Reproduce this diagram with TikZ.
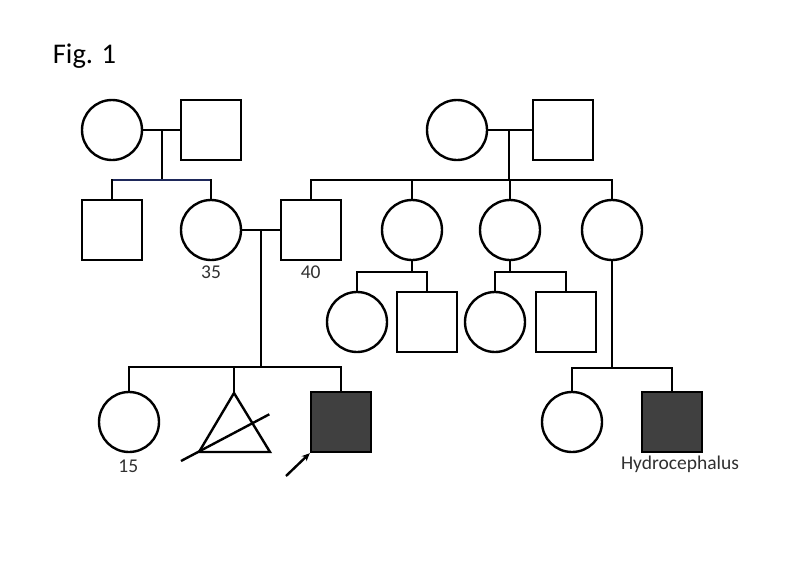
\documentclass[tikz,border=0pt]{standalone}
\usepackage{fontspec}
\setmainfont{Carlito}
\usetikzlibrary{arrows.meta}
\definecolor{affected}{HTML}{404040}
\definecolor{labelgray}{HTML}{303030}
\definecolor{navyline}{RGB}{30,40,90}
\begin{document}
\begin{tikzpicture}[x=1pt,y=-1pt,
  line width=2.4pt,
  female/.style={draw,circle,minimum size=60pt,inner sep=0pt},
  male/.style={draw,rectangle,minimum size=60pt,inner sep=0pt},
  affmale/.style={male,fill=affected},
  lbl/.style={font=\fontsize{19.5}{21}\selectfont,text=labelgray,inner sep=0pt,anchor=base}
]
\useasboundingbox (0,0) rectangle (796,563);
\node[anchor=base west,inner sep=0pt,font=\fontsize{28.5}{32}\selectfont] (fig) at (51.7,63.3) {Fig. 1};

% generation I
\node[female] (F1) at (112,130) {};
\node[male]   (M1) at (211,130) {};
\node[female] (F2) at (457,130) {};
\node[male]   (M2) at (563,130) {};

% generation II
\node[male]   (S1) at (112,230) {};
\node[female] (D1) at (211,230) {};
\node[male]   (H)  at (311,230) {};
\node[female] (A)  at (412,230) {};
\node[female] (B)  at (510,230) {};
\node[female] (C)  at (612,230) {};

% generation III (middle)
\node[female] (A1) at (357,322) {};
\node[male]   (A2) at (427,322) {};
\node[female] (B1) at (495,322) {};
\node[male]   (B2) at (566,322) {};

% generation III (bottom)
\node[female] (K1) at (129,422) {};
\coordinate (T) at (234,393);
\coordinate (TL) at (199,452);
\coordinate (TR) at (270,452);
\node[affmale] (P)  at (341,422) {};
\node[female] (C1) at (572,422) {};
\node[affmale] (C2) at (672,422) {};

% labels
\node[lbl] (l35) at (211,278.3) {35};
\node[lbl] (l40) at (310.7,278.3) {40};
\node[lbl] (l15) at (128.3,472.7) {15};
\node[lbl] (lh)  at (680,469.3) {Hydrocephalus};

% marriages and descent
\coordinate (m1) at (162,130);
\coordinate (s1) at (162,180);
\draw (F1.east) -- (M1.west);
\draw (m1) -- (s1);
\draw[navyline] (S1.north) |- (s1) -| (D1.north);
\draw (S1.north) -- ++(0,-20);
\draw (D1.north) -- ++(0,-20);

\coordinate (m2) at (509,130);
\coordinate (s2) at (509,180);
\draw (F2.east) -- (M2.west);
\draw (m2) -- (s2);
\draw (H.north) |- (s2) -| (C.north);
\draw (A.north) -- (A.north |- s2);
\draw (B.north) -- (B.north |- s2);

\coordinate (m3) at (261,230);
\coordinate (s3) at (261,367);
\draw (D1.east) -- (H.west);
\draw (m3) -- (s3);
\draw (K1.north) |- (s3) -| (P.north);
\draw (T) -- (T |- s3);

\coordinate (sA) at (412,272);
\draw (A.south) -- (sA);
\draw (A1.north) |- (sA) -| (A2.north);

\coordinate (sB) at (510,272);
\draw (B.south) -- (sB);
\draw (B1.north) |- (sB) -| (B2.north);

\coordinate (sC) at (612,368);
\draw (C.south) -- (sC);
\draw (C1.north) |- (sC) -| (C2.north);

% miscarriage triangle with slash
\draw[line join=miter] (T) -- (TL) -- (TR) -- cycle;
\coordinate (sl1) at (181,461);
\coordinate (sl2) at (269.3,414.3);
\draw (sl1) -- (sl2);

% proband arrow
\coordinate (arr) at (286,476);
\draw[-{Stealth[length=8pt,width=7pt]}] (arr) -- (P.south west);
\end{tikzpicture}
\end{document}
